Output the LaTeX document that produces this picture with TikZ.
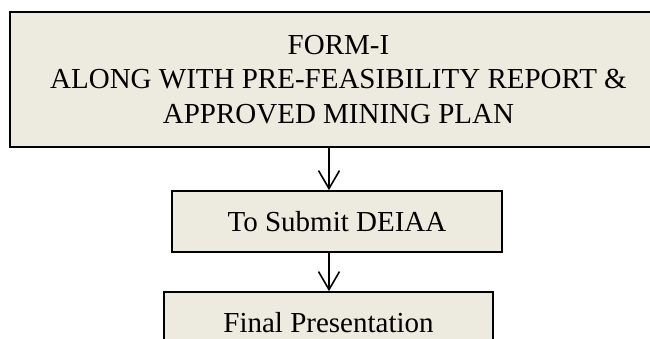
\documentclass[tikz,border=0pt]{standalone}
\usepackage{fontspec}
\setmainfont{Liberation Serif}
\usetikzlibrary{arrows.meta}
\definecolor{boxfill}{RGB}{237,234,224}
\tikzset{
  stepbox/.style={draw=black, line width=1.7pt, fill=boxfill, rectangle, inner sep=0pt,
    align=center, font=\fontsize{29}{34.5}\selectfont},
  flowarrow/.style={line width=1.6pt, -{Straight Barb[length=18pt,width=21pt,line width=1.6pt]}}
}
\begin{document}
\begin{tikzpicture}[x=1pt,y=-1pt]
\useasboundingbox (0,0) rectangle (650,338);
\node[stepbox, minimum width=657pt, minimum height=135pt] (b1) at (338.5,79.5)
  {FORM-I\\ALONG WITH PRE-FEASIBILITY REPORT \&\\APPROVED MINING PLAN};
\node[stepbox, minimum width=330pt, minimum height=61pt] (b2) at (337,221.5) {To Submit DEIAA};
\node[stepbox, minimum width=329pt, minimum height=61pt] (b3) at (328.5,322.5) {Final Presentation};
\coordinate (ax) at (329,0);
\draw[flowarrow] (ax |- b1.south) -- (ax |- b2.north);
\draw[flowarrow] (ax |- b2.south) -- (ax |- b3.north);
\end{tikzpicture}
\end{document}
